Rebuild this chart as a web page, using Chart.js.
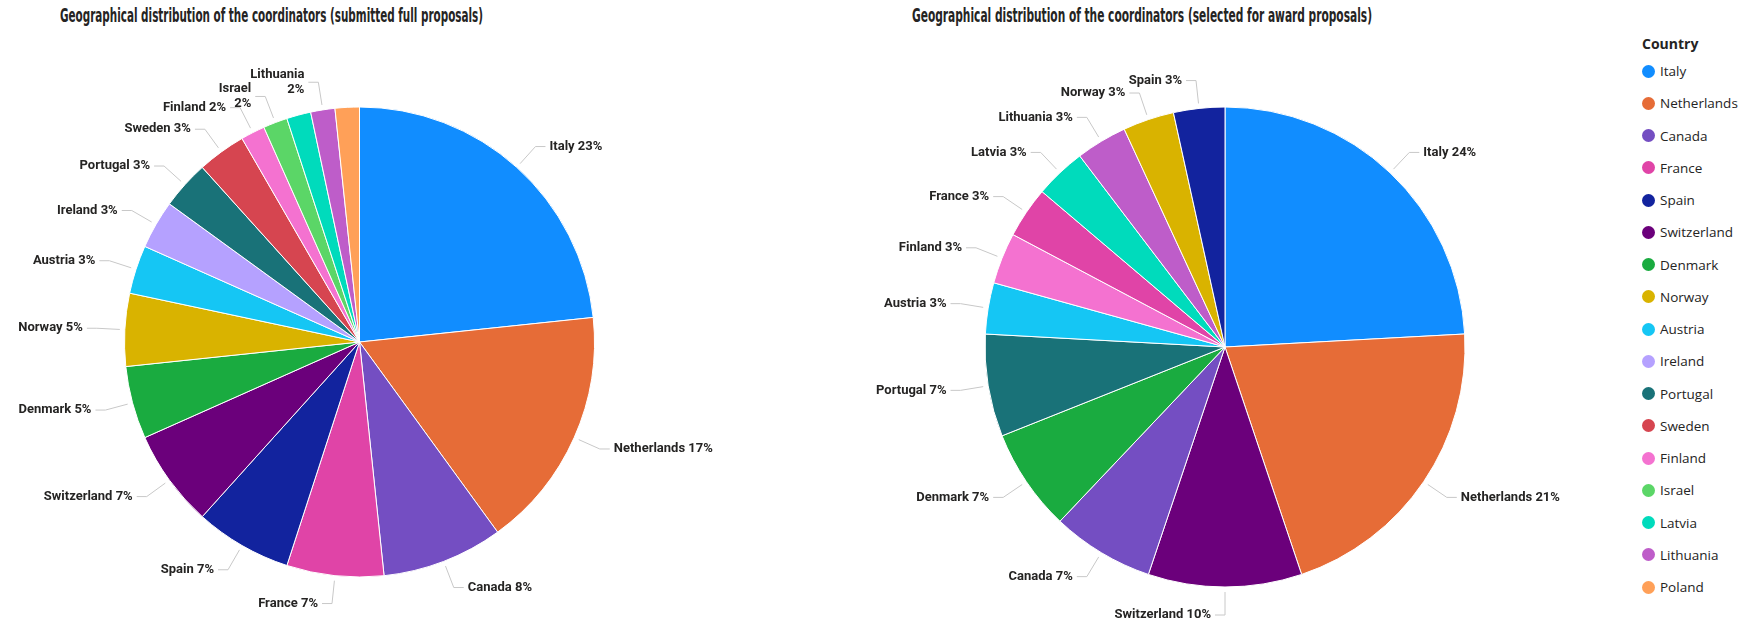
<!DOCTYPE html>
<html lang="en">

<head>
    <meta charset="UTF-8">
    <title>Geographical distribution of the coordinators</title>
    <script src="https://cdn.jsdelivr.net/npm/chart.js"></script>
    <style>
        body {
            margin: 0;
            background: #fff;
            width: 1749px;
            height: 628px;
            overflow: hidden;
            position: relative;
            font-family: "Open Sans", sans-serif;
        }

        .titulo {
            position: absolute;
            top: 3px;
            font-family: "Liberation Sans Narrow", "DejaVu Sans Condensed", sans-serif;
            font-weight: bold;
            font-size: 20px;
            line-height: 24px;
            color: #252423;
            white-space: nowrap;
            transform-origin: left top;
        }

        #pizza1 { position: absolute; left: 0; top: 0; }
        #pizza2 { position: absolute; left: 760px; top: 0; }

        .legenda {
            position: absolute;
            left: 1642px;
            top: 33px;
            color: #252423;
        }

        .legenda h4 {
            margin: 0;
            font-size: 14px;
            line-height: 22px;
            font-weight: bold;
            height: 28px;
        }

        .legenda div {
            position: relative;
            height: 32.25px;
            line-height: 20px;
            font-size: 13.5px;
            padding-left: 18px;
            white-space: nowrap;
        }

        .legenda span {
            position: absolute;
            left: 0;
            top: 3.5px;
            width: 13px;
            height: 13px;
            border-radius: 50%;
        }
    </style>
</head>

<body>
    <div class="titulo" id="titulo1" data-x="60" data-w="423">Geographical distribution of the coordinators (submitted full proposals)</div>
    <div class="titulo" id="titulo2" data-x="912" data-w="460">Geographical distribution of the coordinators (selected for award proposals)</div>

    <canvas id="pizza1" width="720" height="628"></canvas>
    <canvas id="pizza2" width="880" height="628"></canvas>

    <div class="legenda" id="legenda">
        <h4>Country</h4>
    </div>

    <script>
        // submitted full proposals (counts)
        const paisesSubmetidos = ['Italy', 'Netherlands', 'Canada', 'France', 'Spain', 'Switzerland', 'Denmark', 'Norway',
            'Austria', 'Ireland', 'Portugal', 'Sweden', 'Finland', 'Israel', 'Latvia', 'Lithuania', 'Poland'];
        const valoresSubmetidos = [14, 10, 5, 4, 4, 4, 3, 3, 2, 2, 2, 2, 1, 1, 1, 1, 1];

        // selected for award (counts)
        const paisesSelecionados = ['Italy', 'Netherlands', 'Switzerland', 'Canada', 'Denmark', 'Portugal', 'Austria',
            'Finland', 'France', 'Latvia', 'Lithuania', 'Norway', 'Spain'];
        const valoresSelecionados = [7, 6, 3, 2, 2, 2, 1, 1, 1, 1, 1, 1, 1];

        const paisesLegenda = paisesSubmetidos;

        const cores = {
            Italy: '#118DFF', Netherlands: '#E66C37', Canada: '#744EC2', France: '#E044A7',
            Spain: '#12239E', Switzerland: '#6B007B', Denmark: '#1AAB40', Norway: '#D9B300',
            Austria: '#15C6F4', Ireland: '#B5A1FF', Portugal: '#197278', Sweden: '#D64550',
            Finland: '#F472D0', Israel: '#5BD667', Latvia: '#00DBBC', Lithuania: '#BE5DC9',
            Poland: '#FFA058'
        };

        // titulos: ajusta largura
        document.querySelectorAll('.titulo').forEach(t => {
            const w = t.getBoundingClientRect().width;
            t.style.left = t.dataset.x + 'px';
            t.style.transform = 'scaleX(' + (+t.dataset.w / w) + ')';
        });

        // legenda
        const legenda = document.getElementById('legenda');
        paisesLegenda.forEach(p => {
            legenda.innerHTML += `<div><span style="background:${cores[p]}"></span>${p}</div>`;
        });

        // rotulos externos com linha guia
        const rotulosPlugin = {
            id: 'rotulos',
            afterDatasetsDraw(chart) {
                const ctx = chart.ctx;
                const meta = chart.getDatasetMeta(0);
                const valores = chart.data.datasets[0].data;
                const nomes = chart.data.labels;
                const total = valores.reduce((a, b) => a + b, 0);
                ctx.save();
                ctx.font = 'bold 13px Roboto';
                const caixas = [];
                const desenhos = [];
                const ordem = valores.map((v, i) => i).sort((a, b) => valores[b] - valores[a] || a - b);

                ordem.forEach(i => {
                    const p = meta.data[i].getProps(['x', 'y', 'startAngle', 'endAngle', 'outerRadius'], true);
                    const meio = (p.startAngle + p.endAngle) / 2;
                    const c = Math.cos(meio), s = Math.sin(meio);
                    const ini = { x: p.x + (p.outerRadius + 5) * c, y: p.y + (p.outerRadius + 5) * s };
                    const cot = { x: p.x + (p.outerRadius + 28) * c, y: p.y + (p.outerRadius + 28) * s };
                    let graus = ((meio + Math.PI / 2) * 180 / Math.PI) % 360;
                    if (graus < 0) graus += 360;
                    const dir = graus < 179.5 ? 1 : -1;
                    const fim = { x: cot.x + 10 * dir, y: cot.y };
                    const tx = fim.x + 4 * dir;
                    const pct = Math.round(valores[i] / total * 100) + '%';
                    const tentativas = [[nomes[i] + ' ' + pct], [nomes[i], pct]];

                    for (const linhas of tentativas) {
                        const boxes = linhas.map((t, k) => {
                            const w = ctx.measureText(t).width;
                            const y = cot.y + (k - (linhas.length - 1) / 2) * 15;
                            const x0 = dir > 0 ? tx : tx - w;
                            return { x0: x0, x1: x0 + w, y0: y - 6.1, y1: y + 6.1, t: t, y: y };
                        });
                        const bate = boxes.some(b => caixas.some(o =>
                            b.x0 < o.x1 && b.x1 > o.x0 && b.y0 < o.y1 && b.y1 > o.y0));
                        if (!bate) {
                            caixas.push(...boxes);
                            desenhos.push({ ini, cot, fim, dir, tx, boxes });
                            break;
                        }
                    }
                });

                desenhos.forEach(d => {
                    ctx.strokeStyle = '#c8c8c8';
                    ctx.lineWidth = 1;
                    ctx.beginPath();
                    ctx.moveTo(d.ini.x, d.ini.y);
                    ctx.lineTo(d.cot.x, d.cot.y);
                    ctx.lineTo(d.fim.x, d.fim.y);
                    ctx.stroke();
                    ctx.fillStyle = '#252423';
                    ctx.textAlign = d.dir > 0 ? 'left' : 'right';
                    ctx.textBaseline = 'middle';
                    d.boxes.forEach(b => ctx.fillText(b.t, d.tx, b.y));
                });
                ctx.restore();
            }
        };

        function criarPizza(id, paises, valores, padding) {
            return new Chart(document.getElementById(id).getContext('2d'), {
                type: 'pie',
                data: {
                    labels: paises,
                    datasets: [{
                        data: valores,
                        backgroundColor: paises.map(p => cores[p]),
                        borderColor: '#ffffff',
                        borderWidth: 1
                    }]
                },
                options: {
                    responsive: false,
                    animation: false,
                    events: [],
                    layout: { padding: padding },
                    plugins: {
                        legend: { display: false },
                        tooltip: { enabled: false }
                    }
                },
                plugins: [rotulosPlugin]
            });
        }

        criarPizza('pizza1', paisesSubmetidos, valoresSubmetidos, { left: 124, right: 125, top: 106.5, bottom: 50.5 });
        criarPizza('pizza2', paisesSelecionados, valoresSelecionados, { left: 224.5, right: 174.5, top: 106.5, bottom: 40.5 });
    </script>
</body>

</html>
